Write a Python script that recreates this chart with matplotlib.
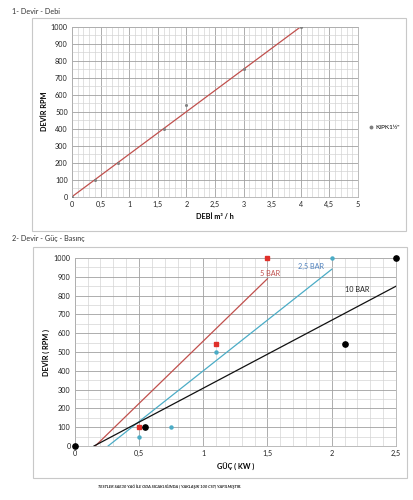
import matplotlib.pyplot as plt
from matplotlib.patches import Rectangle
from matplotlib.ticker import MultipleLocator, FuncFormatter

plt.rcParams['font.family'] = ['Lato', 'DejaVu Sans']

# chart 1: devir - debi
debi = [0, 0.4, 0.8, 1.6, 2, 3, 4]
devir = [0, 100, 200, 400, 540, 750, 1000]
debi_line = [0, 4]
devir_line = [0, 1000]

# chart 2: devir - guc - basinc
guc_5 = [0.5, 1.1, 1.5]
devir_5 = [100, 540, 1000]
guc_25 = [0.5, 0.75, 1.1, 2]
devir_25 = [50, 100, 500, 1000]
guc_10 = [0, 0.55, 2.1, 2.5]
devir_10 = [0, 100, 540, 1000]
trend_5 = ([0.16, 1.5], [0, 890])
trend_25 = ([0.26, 2.0], [0, 940])
trend_10 = ([0.15, 2.5], [0, 850])

RED = '#c0504d'
RED_MK = '#e0302a'
CYAN = '#4bacc6'
FS = 5.2

def comma(v, pos):
    return ('%g' % v).replace('.', ',')

def style_grid(ax, xmax, xmajor, xminor):
    ax.set_xlim(0, xmax)
    ax.set_ylim(0, 1000)
    ax.xaxis.set_major_locator(MultipleLocator(xmajor))
    ax.xaxis.set_minor_locator(MultipleLocator(xminor))
    ax.yaxis.set_major_locator(MultipleLocator(100))
    ax.yaxis.set_minor_locator(MultipleLocator(50))
    ax.xaxis.set_major_formatter(FuncFormatter(comma))
    ax.grid(which='major', color='#a0a0a0', linewidth=0.6)
    ax.grid(which='minor', color='#d4d4d4', linewidth=0.5)
    ax.set_axisbelow(True)
    for s in ax.spines.values():
        s.set_color('#b0b0b0')
        s.set_linewidth(0.6)
    ax.tick_params(which='both', length=0, labelsize=FS, colors='#222222', pad=3)

fig = plt.figure(figsize=(4.14, 5.0), dpi=100)

# outer chart boxes
fig.patches.append(Rectangle((32 / 414, 1 - 231 / 500), 374 / 414, 213 / 500,
                             transform=fig.transFigure, fill=False,
                             edgecolor='#c8c8c8', linewidth=0.8))
fig.patches.append(Rectangle((33 / 414, 1 - 478 / 500), 374 / 414, 231 / 500,
                             transform=fig.transFigure, fill=False,
                             edgecolor='#c8c8c8', linewidth=0.8))

fig.text(12 / 414, 1 - 12 / 500, '1- Devir - Debi', fontsize=FS, va='center', color='#333333')
fig.text(12 / 414, 1 - 238 / 500, '2- Devir - Güç - Basınç', fontsize=FS, va='center', color='#333333')

# chart 1
ax1 = fig.add_axes([72 / 414, 1 - 196.7 / 500, 286 / 414, 170 / 500])
style_grid(ax1, 5, 0.5, 0.1)
ax1.plot(debi_line, devir_line, color=RED, linewidth=0.9, zorder=2)
ax1.plot(debi, devir, linestyle='none', marker='o', markersize=1.2,
         color='#808080', zorder=3, label='KIPK1½"')
ax1.set_xlabel('DEBİ m³ / h', fontsize=FS, fontweight='bold', labelpad=4)
ax1.set_ylabel('DEVİR RPM', fontsize=FS, fontweight='bold', labelpad=2)
ax1.legend(loc='center left', bbox_to_anchor=(1.02, 0.41), frameon=False,
           fontsize=FS - 0.6, handlelength=0.6, handletextpad=0.3, markerscale=1.5)

# chart 2
ax2 = fig.add_axes([74.7 / 414, 1 - 446 / 500, 321.3 / 414, 188 / 500])
style_grid(ax2, 2.5, 0.5, 0.1)
ax2.plot(*trend_5, color=RED, linewidth=0.9, zorder=2)
ax2.plot(*trend_25, color=CYAN, linewidth=0.9, zorder=2)
ax2.plot(*trend_10, color='#111111', linewidth=0.9, zorder=2)
ax2.plot(guc_5, devir_5, linestyle='none', marker='s', markersize=2.6, color=RED_MK, zorder=3)
ax2.plot(guc_25, devir_25, linestyle='none', marker='o', markersize=2.2, color=CYAN, zorder=3)
ax2.plot(guc_10, devir_10, linestyle='none', marker='o', markersize=3.8, color='black', zorder=3)
ax2.text(1.52, 918, '5 BAR', color=RED, fontsize=FS, ha='center', va='center')
ax2.text(1.84, 957, '2,5 BAR', color='#4f81bd', fontsize=FS, ha='center', va='center')
ax2.text(2.2, 833, '10 BAR', color='#222222', fontsize=FS, ha='center', va='center')
ax2.set_xlabel('GÜÇ ( KW )', fontsize=FS, fontweight='bold', labelpad=4)
ax2.set_ylabel('DEVİR ( RPM )', fontsize=FS, fontweight='bold', labelpad=2)
for line in ax2.lines:
    line.set_clip_on(False)

fig.text(170 / 414, 1 - 487 / 500,
         'TESTLER SAE30 YAĞ İLE ODA SICAKLIĞINDA ( YAKLAŞIK 100 CST) YAPILMIŞTIR.',
         fontsize=3.0, fontweight='bold', fontstyle='italic', ha='center', va='center',
         color='#222222')

fig.savefig('out.png', dpi=100)
